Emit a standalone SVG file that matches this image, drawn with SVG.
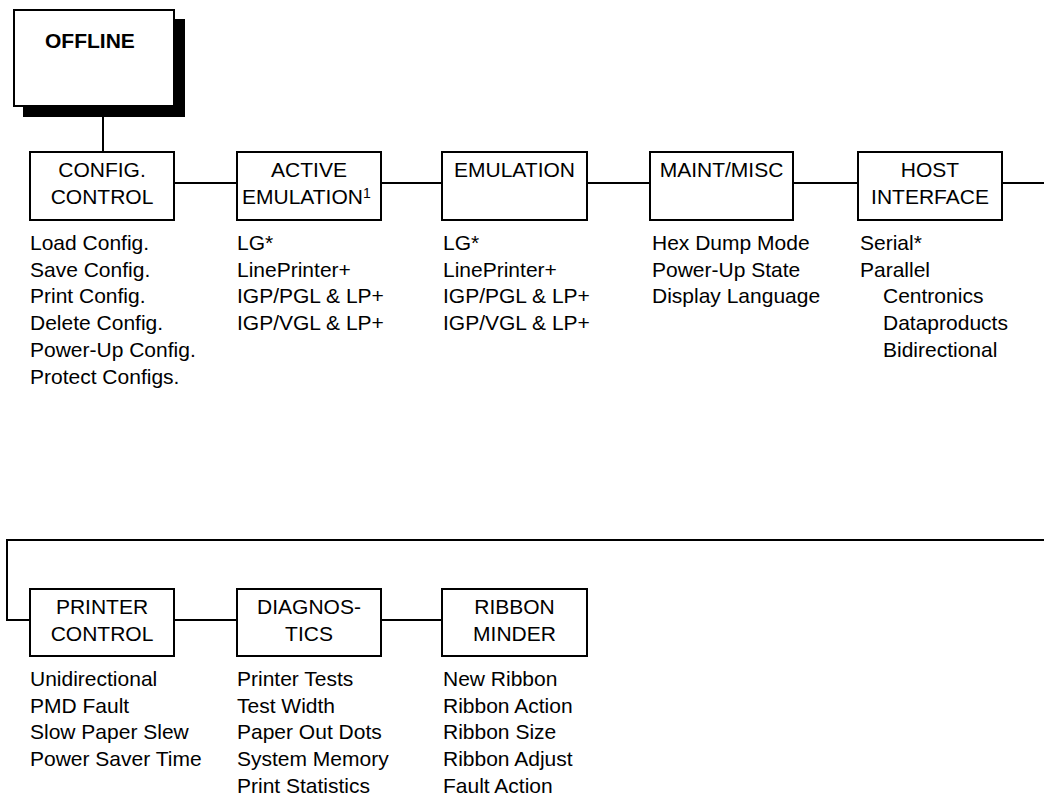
<svg xmlns="http://www.w3.org/2000/svg" width="1044" height="795" viewBox="0 0 1044 795">
<style>
.box{fill:#fff;stroke:#000;stroke-width:2}
.ln{fill:none;stroke:#000;stroke-width:2}
text{font-family:"Liberation Sans",Arial,sans-serif;fill:#000}
.t{font-size:21px;text-anchor:middle}
.l{font-size:21px}
</style>
<rect width="1044" height="795" fill="#fff"/>
<g id="connectors">
<path class="ln" d="M103 117V152"/>
<path class="ln" d="M174 183H237M381 183H442M587 183H650M793 183H858M1002 183H1044"/>
<path class="ln" d="M1044 540H7V620H30M174 620H237M381 620H442"/>
</g>
<g id="offline">
<rect x="23" y="19" width="162" height="98" fill="#000"/>
<rect class="box" x="14" y="10" width="160" height="96"/>
<text x="45" y="48" style="font-size:21px;font-weight:bold">OFFLINE</text>
</g>
<g id="config-control">
<rect class="box" x="30" y="152" width="144" height="68"/>
<text class="t" x="102" y="177">CONFIG.</text>
<text class="t" x="102" y="204">CONTROL</text>
<text class="l" x="30" y="250">Load Config.</text>
<text class="l" x="30" y="276.7">Save Config.</text>
<text class="l" x="30" y="303.4">Print Config.</text>
<text class="l" x="30" y="330.1">Delete Config.</text>
<text class="l" x="30" y="356.8">Power-Up Config.</text>
<text class="l" x="30" y="383.5">Protect Configs.</text>
</g>
<g id="active-emulation">
<rect class="box" x="237" y="152" width="144" height="68"/>
<text class="t" x="309" y="177">ACTIVE</text>
<text x="242" y="204" style="font-size:21px">EMULATION<tspan dy="-6" style="font-size:14px">1</tspan></text>
<text class="l" x="237" y="250">LG*</text>
<text class="l" x="237" y="276.7">LinePrinter+</text>
<text class="l" x="237" y="303.4">IGP/PGL &amp; LP+</text>
<text class="l" x="237" y="330.1">IGP/VGL &amp; LP+</text>
</g>
<g id="emulation">
<rect class="box" x="442" y="152" width="145" height="68"/>
<text class="t" x="514.5" y="177">EMULATION</text>
<text class="l" x="443" y="250">LG*</text>
<text class="l" x="443" y="276.7">LinePrinter+</text>
<text class="l" x="443" y="303.4">IGP/PGL &amp; LP+</text>
<text class="l" x="443" y="330.1">IGP/VGL &amp; LP+</text>
</g>
<g id="maint-misc">
<rect class="box" x="650" y="152" width="143" height="68"/>
<text class="t" x="721.5" y="177">MAINT/MISC</text>
<text class="l" x="652" y="250">Hex Dump Mode</text>
<text class="l" x="652" y="276.7">Power-Up State</text>
<text class="l" x="652" y="303.4">Display Language</text>
</g>
<g id="host-interface">
<rect class="box" x="858" y="152" width="144" height="68"/>
<text class="t" x="930" y="177">HOST</text>
<text class="t" x="930" y="204">INTERFACE</text>
<text class="l" x="860" y="250">Serial*</text>
<text class="l" x="860" y="276.7">Parallel</text>
<text class="l" x="883" y="303.4">Centronics</text>
<text class="l" x="883" y="330.1">Dataproducts</text>
<text class="l" x="883" y="356.8">Bidirectional</text>
</g>
<g id="printer-control">
<rect class="box" x="30" y="589" width="144" height="67"/>
<text class="t" x="102" y="614">PRINTER</text>
<text class="t" x="102" y="641">CONTROL</text>
<text class="l" x="30" y="686">Unidirectional</text>
<text class="l" x="30" y="712.7">PMD Fault</text>
<text class="l" x="30" y="739.4">Slow Paper Slew</text>
<text class="l" x="30" y="766.1">Power Saver Time</text>
</g>
<g id="diagnostics">
<rect class="box" x="237" y="589" width="144" height="67"/>
<text class="t" x="309" y="614">DIAGNOS-</text>
<text class="t" x="309" y="641">TICS</text>
<text class="l" x="237" y="686">Printer Tests</text>
<text class="l" x="237" y="712.7">Test Width</text>
<text class="l" x="237" y="739.4">Paper Out Dots</text>
<text class="l" x="237" y="766.1">System Memory</text>
<text class="l" x="237" y="792.8">Print Statistics</text>
</g>
<g id="ribbon-minder">
<rect class="box" x="442" y="589" width="145" height="67"/>
<text class="t" x="514.5" y="614">RIBBON</text>
<text class="t" x="514.5" y="641">MINDER</text>
<text class="l" x="443" y="686">New Ribbon</text>
<text class="l" x="443" y="712.7">Ribbon Action</text>
<text class="l" x="443" y="739.4">Ribbon Size</text>
<text class="l" x="443" y="766.1">Ribbon Adjust</text>
<text class="l" x="443" y="792.8">Fault Action</text>
</g>
</svg>
